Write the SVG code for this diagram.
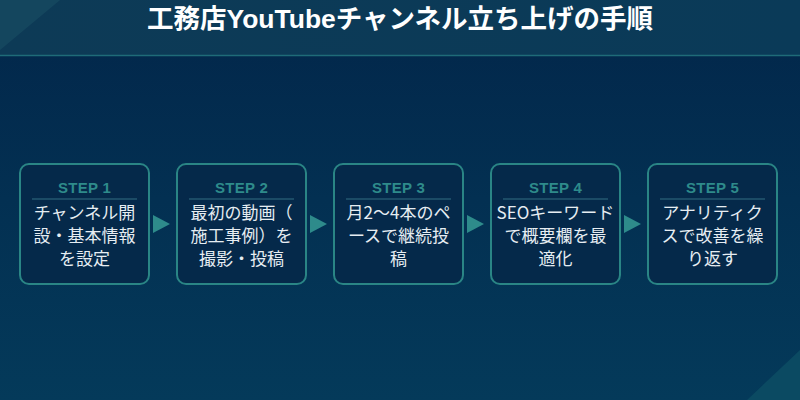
<svg xmlns="http://www.w3.org/2000/svg" width="800" height="400" viewBox="0 0 800 400">
<defs>
<linearGradient id="bodyg" x1="0" y1="0" x2="0" y2="1">
<stop offset="0" stop-color="#02264a"/>
<stop offset="1" stop-color="#043a5a"/>
</linearGradient>
<linearGradient id="headg" x1="0" y1="0" x2="1" y2="0">
<stop offset="0" stop-color="#0d3a56"/>
<stop offset="1" stop-color="#0a3a58"/>
</linearGradient>
<style>
.box{fill:#05294a;stroke:#2a8585;stroke-width:2}
.step{font-family:"Liberation Sans","Noto Sans",sans-serif;font-weight:bold;font-size:15px;fill:#2e8b8b;text-anchor:middle;letter-spacing:0.3px}
.sep{stroke:#1b4b66;stroke-width:2}
.txt{font-family:"Noto Sans CJK JP","Noto Sans",sans-serif;font-size:17px;fill:#e6edf2;text-anchor:middle}
.arrow{fill:#2e8b8b}
.title{font-family:"Liberation Sans","Noto Sans CJK JP",sans-serif;font-weight:bold;font-size:26.5px;fill:#ffffff;text-anchor:middle}
</style>
</defs>
<rect x="0" y="0" width="800" height="400" fill="url(#bodyg)"/>
<rect x="0" y="0" width="800" height="56" fill="url(#headg)"/>
<polygon points="0,0 60,0 0,50" fill="#174a60" opacity="0.8"/>
<polygon points="800,350 800,400 747,400" fill="#0b4a62"/>
<line x1="0" y1="55.5" x2="800" y2="55.5" stroke="#1f6b78" stroke-width="1.5"/>
<text class="title" x="400" y="28">工務店YouTubeチャンネル立ち上げの手順</text>

<g id="connectors">
<polygon class="arrow" points="153,215 170,224 153,233"/>
<polygon class="arrow" points="310,215 327,224 310,233"/>
<polygon class="arrow" points="467,215 484,224 467,233"/>
<polygon class="arrow" points="624,215 641,224 624,233"/>
</g>

<g id="step1">
<rect class="box" x="20" y="164" width="129" height="120" rx="9"/>
<text class="step" x="84.5" y="193">STEP 1</text>
<line class="sep" x1="32" y1="199" x2="137" y2="199"/>
<text class="txt" x="84.5" y="219">チャンネル開</text>
<text class="txt" x="84.5" y="242">設・基本情報</text>
<text class="txt" x="84.5" y="265">を設定</text>
</g>
<g id="step2">
<rect class="box" x="177" y="164" width="129" height="120" rx="9"/>
<text class="step" x="241.5" y="193">STEP 2</text>
<line class="sep" x1="189" y1="199" x2="294" y2="199"/>
<text class="txt" x="241.5" y="219">最初の動画（</text>
<text class="txt" x="241.5" y="242">施工事例）を</text>
<text class="txt" x="241.5" y="265">撮影・投稿</text>
</g>
<g id="step3">
<rect class="box" x="334" y="164" width="129" height="120" rx="9"/>
<text class="step" x="398.5" y="193">STEP 3</text>
<line class="sep" x1="346" y1="199" x2="451" y2="199"/>
<text class="txt" x="398.5" y="219">月2〜4本のペ</text>
<text class="txt" x="398.5" y="242">ースで継続投</text>
<text class="txt" x="398.5" y="265">稿</text>
</g>
<g id="step4">
<rect class="box" x="491" y="164" width="129" height="120" rx="9"/>
<text class="step" x="555.5" y="193">STEP 4</text>
<line class="sep" x1="503" y1="199" x2="608" y2="199"/>
<text class="txt" x="555.5" y="219">SEOキーワード</text>
<text class="txt" x="555.5" y="242">で概要欄を最</text>
<text class="txt" x="555.5" y="265">適化</text>
</g>
<g id="step5">
<rect class="box" x="648" y="164" width="129" height="120" rx="9"/>
<text class="step" x="712.5" y="193">STEP 5</text>
<line class="sep" x1="660" y1="199" x2="765" y2="199"/>
<text class="txt" x="712.5" y="219">アナリティク</text>
<text class="txt" x="712.5" y="242">スで改善を繰</text>
<text class="txt" x="712.5" y="265">り返す</text>
</g>
</svg>
